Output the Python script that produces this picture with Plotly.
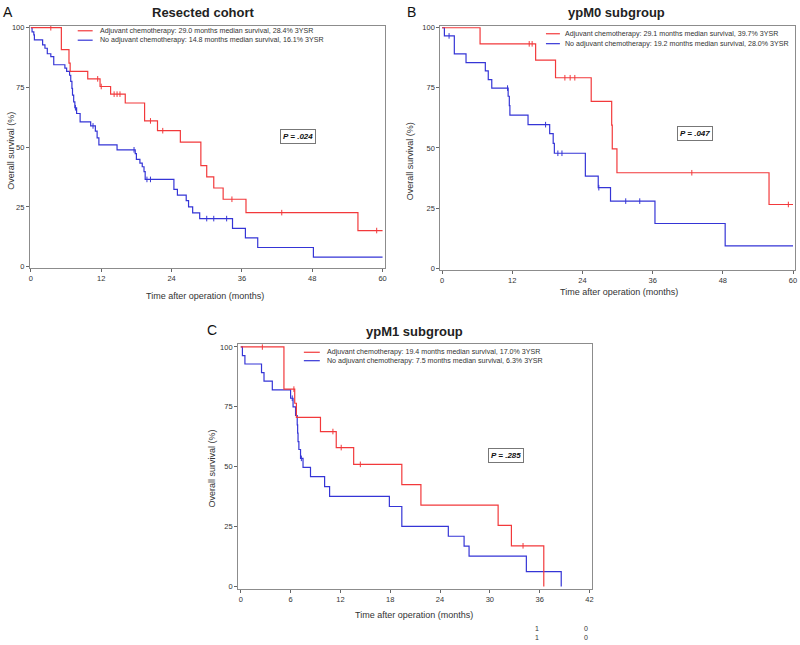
import plotly.graph_objects as go

# ---- data ----
# A: resected cohort
a_adj_t = [0, 5.2, 6.5, 6.7, 9.7, 11.8, 13.6, 16.1, 19.4, 21.6, 25.5, 29.0, 30.0, 31.2, 32.8, 36.7, 55.8, 60]
a_adj_s = [100, 90.8, 85.2, 81.7, 78.6, 75.4, 72.2, 68.5, 61.0, 56.9, 52.1, 42.3, 37.6, 32.9, 28.2, 22.6, 15.1, 15.1]
a_adj_cens = [3.4, 11.4, 12.0, 14.2, 14.7, 15.2, 20.4, 22.5, 34.3, 42.8, 59.0]
a_no_t = [0, 0.2, 0.5, 0.6, 2.0, 2.4, 2.8, 3.4, 3.9, 5.8, 6.1, 6.6, 6.8, 7.0, 7.1, 7.3, 7.5, 7.8, 8.4,
          10.2, 11.0, 11.3, 11.6, 14.7, 17.8, 18.0, 18.6, 19.0, 19.3, 19.5, 24.4, 25.0, 26.5, 26.9,
          27.6, 28.8, 34.4, 36.6, 38.7, 48.2, 60]
a_no_s = [100, 98.3, 97.0, 94.9, 92.8, 91.4, 89.1, 87.9, 84.5, 83.1, 81.7, 80.1, 77.5, 74.6, 71.8, 69.0,
          66.5, 64.1, 60.6, 58.9, 56.7, 53.9, 51.0, 48.9, 47.3, 44.9, 43.3, 41.8, 39.8, 36.5, 32.3, 29.9,
          27.6, 25.0, 22.5, 20.1, 16.0, 12.0, 8.0, 4.0, 4.0]
a_no_cens = [7.6, 10.6, 17.6, 19.8, 20.4, 30.0, 31.2, 33.4]

# B: ypM0 subgroup
b_adj_t = [0, 6.5, 16.0, 19.4, 25.5, 29.0, 29.1, 29.9, 55.9, 60]
b_adj_s = [100, 93.3, 86.5, 79.2, 69.4, 59.5, 49.6, 39.7, 26.5, 26.5]
b_adj_cens = [14.9, 15.4, 21.0, 21.9, 22.7, 42.7, 59.2]
b_no_t = [0, 0.4, 2.1, 4.1, 7.4, 7.9, 8.5, 11.3, 11.5, 11.6, 14.7, 18.4, 19.0, 19.2, 24.5, 26.7, 28.8, 36.4, 48.4, 60]
b_no_s = [100, 96.6, 89.1, 85.5, 82.1, 78.4, 74.9, 71.5, 67.6, 63.7, 59.7, 56.0, 51.9, 47.8, 38.3, 33.5, 27.9, 18.6, 9.3, 9.3]
b_no_cens = [1.2, 11.2, 17.7, 19.8, 20.5, 26.8, 31.4, 33.8]

# C: ypM1 subgroup
c_adj_t = [0, 5.2, 6.5, 6.7, 9.6, 11.5, 13.6, 19.4, 21.7, 31.0, 32.6, 36.5]
c_adj_s = [100, 82.4, 76.5, 70.6, 64.7, 58.0, 51.0, 42.5, 34.0, 25.5, 17.0, 0]
c_adj_cens = [2.6, 6.4, 11.1, 12.1, 14.4, 34.0]
c_no_t = [0, 0.2, 0.5, 2.5, 2.8, 3.8, 6.0, 6.3, 6.6, 6.8, 6.85, 6.9, 7.0, 7.2, 7.5, 8.4, 10.1, 10.7,
          17.9, 19.4, 25.0, 26.9, 27.5, 34.4, 38.6]
c_no_s = [100, 96.4, 92.9, 89.3, 85.7, 82.1, 78.6, 75.0, 71.4, 67.5, 64.0, 60.5, 57.2, 53.5, 49.7, 45.9,
          41.7, 37.6, 33.4, 25.1, 21.0, 16.9, 12.7, 6.2, 0]
c_no_cens = [6.2, 7.3]

titles = ["Resected cohort", "ypM0 subgroup", "ypM1 subgroup"]
letters = ["A", "B", "C"]
legend_adj = ["Adjuvant chemotherapy: 29.0 months median survival, 28.4% 3YSR",
              "Adjuvant chemotherapy: 29.1 months median survival, 39.7% 3YSR",
              "Adjuvant chemotherapy: 19.4 months median survival, 17.0% 3YSR"]
legend_no = ["No adjuvant chemotherapy: 14.8 months median survival, 16.1% 3YSR",
             "No adjuvant chemotherapy: 19.2 months median survival, 28.0% 3YSR",
             "No adjuvant chemotherapy: 7.5 months median survival, 6.3% 3YSR"]
p_values = ["P = .024", "P = .047", "P = .285"]
x_ticks = [[0, 12, 24, 36, 48, 60], [0, 12, 24, 36, 48, 60], [0, 6, 12, 18, 24, 30, 36, 42]]
y_ticks = [0, 25, 50, 75, 100]

RED = "#f2393b"
BLUE = "#3535d6"
W, H = 800, 645
FONT = "Liberation Sans, Arial, sans-serif"


def px(x):
    return x / W


def py(y):
    return 1 - y / H


def surv_at(t, s, c):
    v = s[0]
    for ti, si in zip(t, s):
        if ti <= c:
            v = si
    return v


fig = go.Figure()

# panel geometry in pixels: (left, right, top, bottom), x range, y range
panels = [
    dict(box=(29, 385, 24, 268.5), xr=[-0.17, 60.34], yr=[-0.75, 100.8], ax="x", ay="y"),
    dict(box=(441, 797, 24, 270), xr=[-0.29, 60.34], yr=[-0.7, 100.8], ax="x2", ay="y2"),
    dict(box=(238, 593, 345, 592), xr=[-0.32, 42.28], yr=[-1.2, 101.1], ax="x3", ay="y3"),
]
series = [
    (a_adj_t, a_adj_s, a_adj_cens, a_no_t, a_no_s, a_no_cens),
    (b_adj_t, b_adj_s, b_adj_cens, b_no_t, b_no_s, b_no_cens),
    (c_adj_t, c_adj_s, c_adj_cens, c_no_t, c_no_s, c_no_cens),
]

for i, (p, d) in enumerate(zip(panels, series)):
    at, as_, ac, nt, ns, nc = d
    for t, s, cens, col in [(nt, ns, nc, BLUE), (at, as_, ac, RED)]:
        fig.add_trace(go.Scatter(x=t, y=s, mode="lines", line=dict(color=col, width=1.2, shape="hv"),
                                 xaxis=p["ax"], yaxis=p["ay"], showlegend=False))
        fig.add_trace(go.Scatter(x=cens, y=[surv_at(t, s, c) for c in cens], mode="markers",
                                 marker=dict(symbol="line-ns", size=4, line=dict(color=col, width=1)),
                                 xaxis=p["ax"], yaxis=p["ay"], showlegend=False))

layout = dict(width=W, height=H, margin=dict(l=0, r=0, t=0, b=0), plot_bgcolor="white",
              paper_bgcolor="white", showlegend=False, font=dict(family=FONT, color="#222"))
axis_common = dict(showline=True, mirror=True, linecolor="#8c8c8c", linewidth=1, ticks="outside",
                   ticklen=3, tickcolor="#666", showgrid=False, zeroline=False,
                   tickfont=dict(size=7.5, color="#333", family=FONT))
for i, p in enumerate(panels):
    l, r, t, b = p["box"]
    sfx = "" if i == 0 else str(i + 1)
    layout["xaxis" + sfx] = dict(axis_common, domain=[px(l), px(r)], range=p["xr"], tickvals=x_ticks[i],
                                 anchor="y" + sfx)
    layout["yaxis" + sfx] = dict(axis_common, domain=[py(b), py(t)], range=p["yr"], tickvals=y_ticks,
                                 anchor="x" + sfx)
fig.update_layout(**layout)

ann = []
shapes = []


def text(x, y, s, size, xanchor="center", **kw):
    ann.append(dict(x=px(x), y=py(y), xref="paper", yref="paper", text=s, showarrow=False,
                    xanchor=xanchor, yanchor="middle",
                    font=dict(size=size, family=FONT, color=kw.pop("color", "#222")), **kw))


# titles, letters, axis titles
title_pos = [(203, 11), (618, 11), (415, 332)]
letter_pos = [(7, 10), (412, 10), (212, 331)]
ytitle_pos = [(10, 150), (410, 160), (212, 470)]
xtitle_pos = [(205, 296), (620, 292), (415, 618)]
for i in range(3):
    text(*title_pos[i], "<b>" + titles[i] + "</b>", 13)
    text(*letter_pos[i], letters[i], 14, color="#111")
    text(*ytitle_pos[i], "Overall survival (%)", 9, textangle=-90, color="#333")
    text(*xtitle_pos[i], "Time after operation (months)", 9, color="#333")

# legends inside the panels
leg = [(77, 92, 97, 29, 38.5), (547, 561, 564, 32, 42), (304, 320, 325, 353, 361.5)]
for i, (x0, x1, xt, y1, y2) in enumerate(leg):
    for y, col, lab in [(y1, RED, legend_adj[i]), (y2, BLUE, legend_no[i])]:
        shapes.append(dict(type="line", xref="paper", yref="paper", x0=px(x0), x1=px(x1), y0=py(y), y1=py(y),
                           line=dict(color=col, width=1.2)))
        text(xt, y, lab, 7.1, xanchor="left", color="#333")

# p value boxes
pbox = [(298, 136), (697, 133), (507, 457)]
for i, (x, y) in enumerate(pbox):
    text(x, y, "<b><i>" + p_values[i] + "</i></b>", 8, bordercolor="#777", borderwidth=1, borderpad=2,
         bgcolor="white", color="#111")

# stray numbers under panel C
for x, s in [(538, "1<br>1"), (587, "0<br>0")]:
    text(x, 636, s, 7, color="#333")

fig.update_layout(annotations=ann, shapes=shapes)
fig.write_html("out.html", config={"displayModeBar": False},
               post_script="document.body.style.margin='0';")
